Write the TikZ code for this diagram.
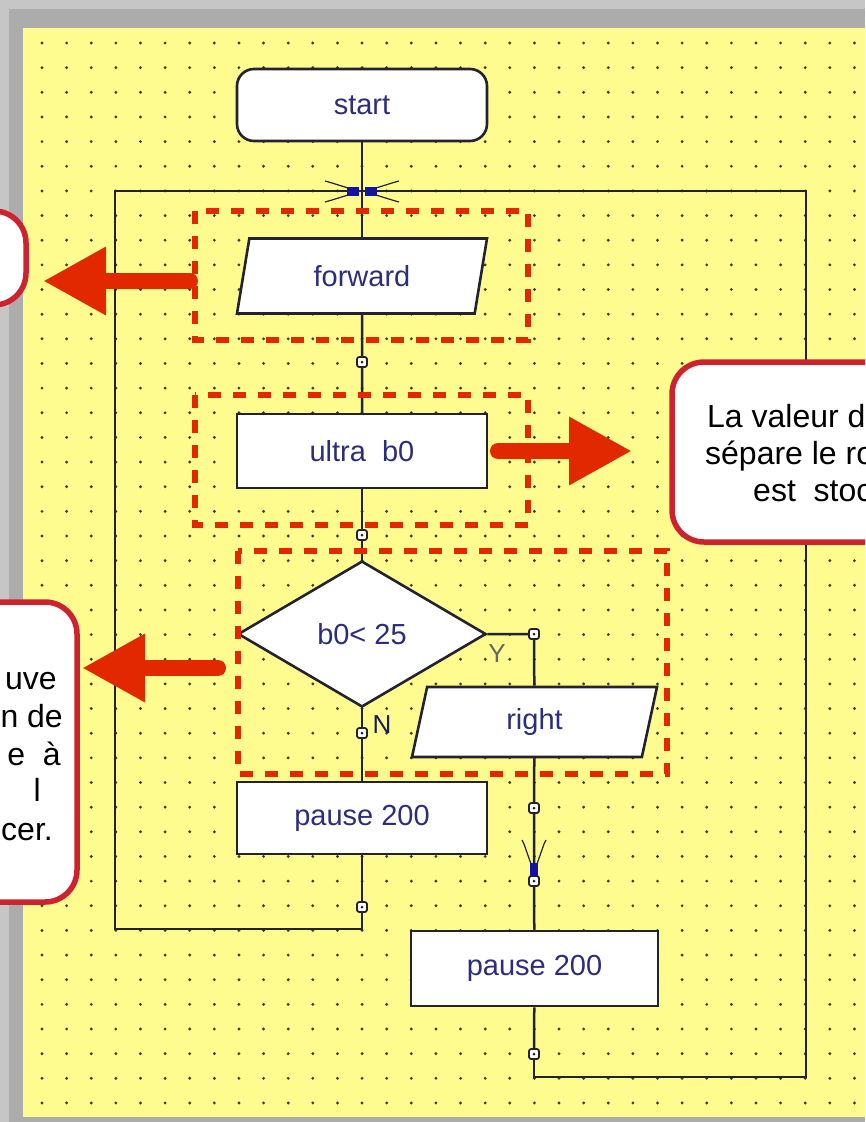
\documentclass[tikz,border=0pt]{standalone}
\usepackage{fontspec}
\setsansfont{Liberation Sans}
\usetikzlibrary{shapes.geometric,arrows.meta}

\definecolor{paper}{RGB}{254,252,142}
\definecolor{dotgray}{RGB}{60,60,50}
\definecolor{flowink}{RGB}{34,34,48}
\definecolor{textblue}{RGB}{45,45,125}
\definecolor{hilite}{RGB}{226,40,0}
\definecolor{notered}{RGB}{205,35,48}
\definecolor{junction}{RGB}{20,20,160}

\begin{document}
\begin{tikzpicture}[x=1pt, y=-1pt, font=\sffamily,
    flow/.style={draw=flowink, line width=2.5pt},
    block/.style={draw=flowink, line width=2.6pt, fill=white, text=textblue,
      minimum width=250pt, minimum height=74pt, inner sep=2pt,
      font=\sffamily\fontsize{29}{32}\selectfont},
    terminal/.style={block, rectangle, rounded corners=17pt, minimum height=72pt},
    process/.style={block, rectangle},
    io/.style={block, trapezium, trapezium left angle=64, trapezium right angle=116,
      trapezium stretches body, minimum height=75pt},
    decision/.style={block, diamond, aspect=1.7, minimum width=248pt,
      minimum height=146pt, inner sep=0pt},
    joint/.style={draw=flowink, line width=1.7pt, fill=white, rectangle,
      rounded corners=2.5pt, minimum size=10pt, inner sep=0pt,
      path picture={\fill[flowink] (path picture bounding box.center) circle (1.5pt);}},
    branch/.style={font=\sffamily\fontsize{26}{28}\selectfont},
    frame/.style={draw=hilite, line width=6.5pt, dash pattern=on 13pt off 12pt},
    note/.style={draw=notered, line width=5.5pt, fill=white, rounded corners=32pt},
    pointer/.style={color=hilite, line width=16pt, line cap=round,
      -{Triangle[length=63pt, width=64pt]}},
    remark/.style={font=\sffamily\fontsize{32}{37}\selectfont, inner sep=0pt}]

  %% frame and paper
  \clip (0,0) rectangle (865,1122);
  \fill[gray!45] (0,0) rectangle (865,1122);
  \fill[gray!65] (9,9) rectangle (865,1122);
  \fill[paper] (23,28) rectangle (865,1117);

  %% dot grid
  \foreach \i in {0,...,33}
    \foreach \j in {0,...,43}
      \fill[dotgray] (42+24.62*\i, 43+24.65*\j) circle (1.6);

  %% blocks
  \node[terminal] (start) at (362,105) {start};
  \node[io, minimum width=250pt] (forward) at (362,276) {forward};
  \node[process] (ultra) at (362,451) {ultra\ \ b0};
  \node[decision] (test) at (362,634) {b0< 25};
  \node[io, minimum width=245pt, minimum height=70pt] (right) at (534.5,722) {right};
  \node[process, minimum height=72pt] (pauseN) at (362,818) {pause 200};
  \node[process, minimum width=247pt, minimum height=75pt] (pauseY) at (534.5,968.5) {pause 200};

  %% joints
  \coordinate (cross) at (362,191);
  \coordinate (merge) at (534,866);
  \coordinate (loopL) at (115,929);
  \coordinate (loopTL) at (115,191);
  \coordinate (loopTR) at (806,191);
  \coordinate (loopBR) at (806,1077);
  \node[joint] (jA) at (362,362) {};
  \node[joint] (jB) at (362,535) {};
  \node[joint] (jY) at (534,634) {};
  \node[joint] (jN) at (362,733) {};
  \node[joint] (jL) at (362,907) {};
  \node[joint] (jR1) at (534,808) {};
  \node[joint] (jR2) at (534,881) {};
  \node[joint] (jR3) at (534,1054) {};

  %% connectors
  \draw[flow] (jL) |- (loopL) -- (loopTL) -- (loopTR) -- (loopBR) -| (jR3);
  \draw[flow] (start) -- (cross) -- (forward);
  \draw[flow] (forward) -- (jA) -- (ultra);
  \draw[flow] (ultra) -- (jB) -- (test);
  \draw[flow] (test.east) -- (jY) -- (right);
  \draw[flow] (test.south) -- (jN) -- (pauseN);
  \draw[flow] (pauseN) -- (jL);
  \draw[flow] (right) -- (jR1) -- (merge) -- (jR2) -- (pauseY);
  \draw[flow] (pauseY) -- (jR3);
  \node[joint] at (jA) {};
  \node[joint] at (jB) {};
  \node[joint] at (jY) {};
  \node[joint] at (jN) {};
  \node[joint] at (jL) {};
  \node[joint] at (jR1) {};
  \node[joint] at (jR2) {};
  \node[joint] at (jR3) {};

  %% junction marks
  \foreach \s in {1,-1} {
    \draw[flowink, line width=1.2pt] (362-37*\s,181) -- (362-30*\s,183) -- (362-14*\s,188);
    \draw[flowink, line width=1.2pt] (362-37*\s,202) -- (362-30*\s,200) -- (362-14*\s,195);
    \fill[junction] (362-15*\s,187) rectangle (362-3*\s,196);
    \draw[flowink, line width=1.2pt] (534-12*\s,840) -- (534-10*\s,844) -- (534-3*\s,864);
  }
  \fill[junction] (530,863) rectangle (538,876);

  \node[branch, text=gray!80!black] (yes) at (497,654) {Y};
  \node[branch, text=flowink!80!blue] (no) at (382,725) {N};

  %% highlight frames
  \draw[frame] (195,211) rectangle (528,340);
  \draw[frame] (195,395) rectangle (528,525);
  \draw[frame] (238,551) rectangle (667,774);

  %% callouts
  \draw[note] (-60,211) rectangle (26,305);
  \draw[note] (-60,602) rectangle (77,902);
  \draw[note] (672,362) rectangle (930,542);

  \node[remark, anchor=base west] (r1) at (707,427) {La valeur d};
  \node[remark, anchor=base west] (r2) at (705,464) {sépare le ro};
  \node[remark, anchor=base west] (r3) at (753,501) {est\ \ stoc};

  \node[remark, anchor=base east] (l1) at (57,689) {uve};
  \node[remark, anchor=base east] (l2) at (63,727) {n de};
  \node[remark, anchor=base east] (l3) at (61,765) {e\ \ à};
  \node[remark, anchor=base east] (l4) at (41,801) {l};
  \node[remark, anchor=base east] (l5) at (53,840) {cer.};

  %% pointers
  \coordinate (p1a) at (190,281);
  \coordinate (p1b) at (43,281);
  \coordinate (p2a) at (498,451);
  \coordinate (p2b) at (632,451);
  \coordinate (p3a) at (218,668);
  \coordinate (p3b) at (82,668);
  \draw[pointer] (p1a) -- (p1b);
  \draw[pointer] (p2a) -- (p2b);
  \draw[pointer] (p3a) -- (p3b);
\end{tikzpicture}
\end{document}
